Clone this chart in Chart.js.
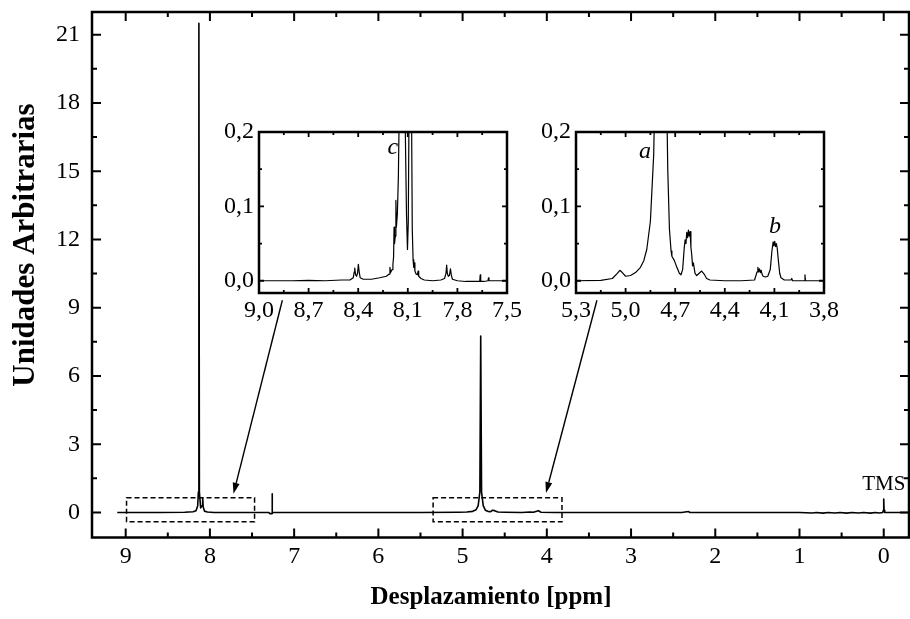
<!DOCTYPE html>
<html>
<head>
<meta charset="utf-8">
<script src="https://cdn.jsdelivr.net/npm/chart.js@4.4.0/dist/chart.umd.min.js"></script>
<style>
html, body { margin: 0; padding: 0; background: #fff; }
#wrap { position: relative; width: 910px; height: 619px; }
#wrap canvas { position: absolute; }
</style>
</head>
<body>
<div id="wrap">
  <canvas id="main" width="910" height="619" style="left:0;top:0"></canvas>
  <canvas id="inset1" width="318" height="205" style="left:209px;top:118px"></canvas>
  <canvas id="inset2" width="318" height="205" style="left:526px;top:118px"></canvas>
</div>
<script>
// espectro completo (ppm, unidades arbitrarias)
const mainPpm = [9.10, 8.60, 8.30, 8.20, 8.165, 8.145, 8.137, 8.131, 8.125, 8.110,
  8.092, 8.086, 8.080, 8.065, 8.030, 7.95, 7.50, 7.30, 7.29, 7.262, 7.261, 7.259, 7.20, 6.50, 5.50, 5.05, 4.95,
  4.88, 4.84, 4.815, 4.795, 4.785, 4.775, 4.755, 4.73, 4.70, 4.67, 4.645, 4.62, 4.58, 4.50, 4.30,
  4.20, 4.16, 4.10, 4.07, 3.90, 2.40, 2.32, 2.30, 1.00, 0.85, 0.80, 0.72, 0.66, 0.58, 0.52, 0.44, 0.38,
  0.30, 0.24, 0.16, 0.10, 0.05, 0.012, 0.004, 0.000, -0.004, -0.012, -0.30];
const mainInt = [0, 0, 0.01, 0.03, 0.08, 0.3, 0.9, 21.5, 0.9, 0.2,
  0.3, 0.64, 0.25, 0.06, 0.02, 0, 0, 0, -0.05, -0.05, 0.82, 0, 0, 0, 0, 0.01, 0.02,
  0.05, 0.12, 0.3, 0.9, 7.75, 0.9, 0.3, 0.1, 0.05, 0.03, 0.1, 0.08, 0.02, 0.01, 0,
  0.02, 0.01, 0.08, 0.01, 0, 0, 0.04, 0, 0, -0.02, 0, -0.03, 0, -0.02, 0, -0.03, 0,
  -0.02, 0, -0.03, 0, -0.02, 0, 0.1, 0.59, 0.1, 0, 0];
const mainXTicks = [9, 8, 7, 6, 5, 4, 3, 2, 1, 0];
const mainYTicks = [0, 3, 6, 9, 12, 15, 18, 21];

// ampliacion 9,0 - 7,5 ppm
const ins1Ppm = [9.00, 8.90, 8.80, 8.70, 8.60, 8.50, 8.45, 8.430, 8.424, 8.421, 8.416, 8.410, 8.404, 8.399,
  8.394, 8.388, 8.370, 8.320, 8.270, 8.230, 8.212, 8.208, 8.204, 8.195, 8.190, 8.186, 8.183, 8.180, 8.176,
  8.172, 8.169, 8.163, 8.157, 8.150, 8.140, 8.131, 8.122, 8.115, 8.108, 8.102, 8.097, 8.092, 8.085, 8.078,
  8.073, 8.068, 8.064, 8.061, 8.057, 8.050, 8.042, 8.038, 8.034, 8.020, 8.000, 7.950, 7.900, 7.878, 7.869,
  7.865, 7.861, 7.855, 7.848, 7.842, 7.837, 7.830, 7.800, 7.750, 7.700, 7.665, 7.662, 7.659, 7.640, 7.615,
  7.612, 7.609, 7.550, 7.500];
const ins1Int = [0.000, 0.000, 0.000, 0.0005, 0.000, 0.001, 0.001, 0.004, 0.012, 0.017, 0.008, 0.006, 0.010, 0.022,
  0.012, 0.004, 0.002, 0.002, 0.004, 0.006, 0.009, 0.018, 0.011, 0.015, 0.022, 0.032, 0.072, 0.050, 0.060,
  0.108, 0.072, 0.090, 0.14, 0.26, 1.5, 21.5, 1.5, 0.20, 0.09, 0.042, 0.08, 0.25, 0.6, 0.25,
  0.07, 0.028, 0.018, 0.024, 0.013, 0.009, 0.008, 0.013, 0.006, 0.003, 0.001, 0.000, 0.001, 0.003, 0.010,
  0.021, 0.010, 0.006, 0.007, 0.016, 0.008, 0.002, 0.000, -0.001, -0.001, -0.001, 0.008, -0.001, -0.001, 0.000,
  0.004, 0.000, 0.000, 0.000];
const ins1XTicks = [9.0, 8.7, 8.4, 8.1, 7.8, 7.5];

// ampliacion 5,3 - 3,8 ppm
const ins2Ppm = [5.30, 5.15, 5.08, 5.05, 5.035, 5.02, 5.00, 4.97, 4.94, 4.91, 4.89, 4.872, 4.85, 4.83, 4.815,
  4.80, 4.785, 4.77, 4.755, 4.745, 4.735, 4.725, 4.72, 4.705, 4.69, 4.675, 4.665, 4.655, 4.645, 4.64, 4.635,
  4.63, 4.625, 4.62, 4.615, 4.61, 4.605, 4.60, 4.595, 4.59, 4.58, 4.57, 4.555, 4.54, 4.525, 4.51, 4.49, 4.40,
  4.30, 4.22, 4.205, 4.20, 4.195, 4.19, 4.185, 4.18, 4.175, 4.168, 4.155, 4.14, 4.125, 4.115, 4.108, 4.103,
  4.098, 4.093, 4.088, 4.083, 4.075, 4.068, 4.06, 4.04, 4.00, 3.995, 3.99, 3.93, 3.918, 3.915, 3.912, 3.80];
const ins2Int = [0.000, 0.0005, 0.003, 0.010, 0.014, 0.011, 0.006, 0.007, 0.011, 0.018, 0.027, 0.042, 0.08, 0.17, 0.35,
  1.5, 7.75, 1.5, 0.3, 0.15, 0.07, 0.04, 0.033, 0.027, 0.018, 0.010, 0.008, 0.015, 0.045, 0.055, 0.050,
  0.065, 0.058, 0.068, 0.060, 0.066, 0.045, 0.035, 0.020, 0.024, 0.010, 0.007, 0.010, 0.013, 0.009, 0.003, 0.001, 0.000,
  0.000, 0.001, 0.012, 0.018, 0.012, 0.016, 0.011, 0.014, 0.009, 0.006, 0.005, 0.006, 0.015, 0.040, 0.052, 0.047,
  0.053, 0.046, 0.050, 0.044, 0.025, 0.010, 0.004, 0.001, 0.001, 0.003, 0.000, 0.000, 0.000, 0.008, 0.000, 0.000];
const ins2XTicks = [5.3, 5.0, 4.7, 4.4, 4.1, 3.8];
const insYTicks = [0.0, 0.1, 0.2];

Chart.defaults.font.family = "'Liberation Serif', 'Times New Roman', serif";
Chart.defaults.color = '#000';

const toPoints = (xs, ys) => xs.map((v, i) => ({ x: v, y: ys[i] }));
const comma = v => Number(v).toFixed(1).replace('.', ',');

// marcas menores a mitad de camino entre las mayores
function minorTicks(majors, lo, hi) {
    const step = majors[1] - majors[0];
    const out = [];
    for (let i = -1; i < majors.length; i++) {
        const v = majors[0] + (i + 0.5) * step;
        if (v > lo && v < hi) out.push(v);
    }
    return out;
}

const framePlugin = {
    id: 'frame',
    afterDraw(chart, args, o) {
        const { ctx, chartArea: a, scales: { x, y } } = chart;
        ctx.save();
        ctx.strokeStyle = '#000';
        ctx.lineWidth = o.tickWidth;
        const xTick = (vals, len) => vals.forEach(v => {
            const p = x.getPixelForValue(v);
            ctx.beginPath();
            ctx.moveTo(p, a.bottom); ctx.lineTo(p, a.bottom - len);
            ctx.moveTo(p, a.top); ctx.lineTo(p, a.top + len);
            ctx.stroke();
        });
        const yTick = (vals, len) => vals.forEach(v => {
            const p = y.getPixelForValue(v);
            ctx.beginPath();
            ctx.moveTo(a.left, p); ctx.lineTo(a.left + len, p);
            ctx.moveTo(a.right, p); ctx.lineTo(a.right - len, p);
            ctx.stroke();
        });
        xTick(o.xMajor, o.major);
        xTick(minorTicks(o.xMajor, x.min, x.max), o.minor);
        yTick(o.yMajor, o.major);
        yTick(minorTicks(o.yMajor, y.min, y.max), o.minor);
        ctx.lineWidth = o.frameWidth;
        ctx.strokeRect(a.left, a.top, a.width, a.height);
        ctx.restore();
    }
};

const notesPlugin = {
    id: 'notes',
    afterDraw(chart, args, o) {
        const { ctx, scales: { x, y } } = chart;
        ctx.save();
        ctx.strokeStyle = '#000';
        ctx.fillStyle = '#000';
        (o.boxes || []).forEach(b => {
            const x0 = x.getPixelForValue(b.x0), x1 = x.getPixelForValue(b.x1);
            const y0 = y.getPixelForValue(b.y0), y1 = y.getPixelForValue(b.y1);
            ctx.lineWidth = 1.5;
            ctx.setLineDash([5, 3]);
            ctx.strokeRect(Math.min(x0, x1), Math.min(y0, y1), Math.abs(x1 - x0), Math.abs(y1 - y0));
        });
        ctx.setLineDash([]);
        (o.arrows || []).forEach(ar => {
            const x0 = x.getPixelForValue(ar.x0), y0 = y.getPixelForValue(ar.y0);
            const x1 = x.getPixelForValue(ar.x1), y1 = y.getPixelForValue(ar.y1);
            const ang = Math.atan2(y1 - y0, x1 - x0);
            const L = 11, W = 3.5;
            ctx.lineWidth = 1.4;
            ctx.beginPath();
            ctx.moveTo(x0, y0);
            ctx.lineTo(x1 - L * Math.cos(ang), y1 - L * Math.sin(ang));
            ctx.stroke();
            ctx.beginPath();
            ctx.moveTo(x1, y1);
            ctx.lineTo(x1 - L * Math.cos(ang) + W * Math.sin(ang), y1 - L * Math.sin(ang) - W * Math.cos(ang));
            ctx.lineTo(x1 - L * Math.cos(ang) - W * Math.sin(ang), y1 - L * Math.sin(ang) + W * Math.cos(ang));
            ctx.closePath();
            ctx.fill();
        });
        (o.texts || []).forEach(t => {
            const px = t.px !== undefined ? t.px : x.getPixelForValue(t.x);
            const py = t.py !== undefined ? t.py : y.getPixelForValue(t.y);
            ctx.save();
            ctx.font = t.font;
            ctx.textAlign = 'center';
            ctx.textBaseline = 'middle';
            ctx.translate(px, py);
            if (t.rot) ctx.rotate(t.rot);
            ctx.fillText(t.text, 0, 0);
            ctx.restore();
        });
        ctx.restore();
    }
};

const FONT = "'Liberation Serif', 'Times New Roman', serif";

new Chart(document.getElementById('main'), {
    type: 'line',
    data: {
        datasets: [{
            data: toPoints(mainPpm, mainInt),
            borderColor: '#000',
            borderWidth: 1.6,
            borderJoinStyle: 'round',
            pointRadius: 0,
            tension: 0
        }]
    },
    options: {
        responsive: false,
        animation: false,
        devicePixelRatio: 1,
        layout: { padding: { top: 12, right: 1, left: 0, bottom: 0 } },
        plugins: {
            legend: { display: false },
            tooltip: { enabled: false },
            frame: { xMajor: mainXTicks, yMajor: mainYTicks, major: 9, minor: 5, tickWidth: 2, frameWidth: 2.5 },
            notes: {
                boxes: [
                    { x0: 8.99, x1: 7.47, y0: 0.645, y1: -0.41 },
                    { x0: 5.35, x1: 3.82, y0: 0.645, y1: -0.41 }
                ],
                arrows: [
                    { x0: 7.14, y0: 9.33, x1: 7.72, y1: 0.82 },
                    { x0: 3.405, y0: 9.33, x1: 4.01, y1: 0.86 }
                ],
                texts: [
                    { text: 'TMS', x: 0, y: 1.21, font: '21px ' + FONT },
                    { text: 'Desplazamiento [ppm]', px: 491, py: 598, font: 'bold 25px ' + FONT },
                    { text: 'Unidades Arbitrarias', px: 26, py: 245, rot: -Math.PI / 2, font: 'bold 31px ' + FONT }
                ]
            }
        },
        scales: {
            x: {
                type: 'linear',
                reverse: true,
                min: -0.3,
                max: 9.4,
                grid: { display: false, drawTicks: false },
                border: { display: false },
                ticks: { font: { size: 24 }, color: '#000', padding: 5, maxRotation: 0, callback: v => String(v) },
                afterBuildTicks: s => { s.ticks = mainXTicks.map(v => ({ value: v })); },
                afterFit: s => { s.height = 81.5; s.paddingLeft = 0; s.paddingRight = 0; }
            },
            y: {
                type: 'linear',
                min: -1.1,
                max: 22,
                grid: { display: false, drawTicks: false },
                border: { display: false },
                ticks: { font: { size: 24 }, color: '#000', padding: 12, callback: v => String(v) },
                afterBuildTicks: s => { s.ticks = mainYTicks.map(v => ({ value: v })); },
                afterFit: s => { s.width = 92; s.paddingTop = 0; s.paddingBottom = 0; }
            }
        }
    },
    plugins: [framePlugin, notesPlugin]
});

function makeInset(id, xs, ys, xTicks, label) {
    new Chart(document.getElementById(id), {
        type: 'line',
        data: {
            datasets: [{
                data: toPoints(xs, ys),
                borderColor: '#000',
                borderWidth: 1.2,
                borderJoinStyle: 'round',
                pointRadius: 0,
                tension: 0
            }]
        },
        options: {
            responsive: false,
            animation: false,
            devicePixelRatio: 1,
            layout: { padding: { top: 14, right: 20, left: 0, bottom: 0 } },
            plugins: {
                legend: { display: false },
                tooltip: { enabled: false },
                frame: { xMajor: xTicks, yMajor: insYTicks, major: 5, minor: 3, tickWidth: 1.8, frameWidth: 2.5 },
                notes: { texts: label }
            },
            scales: {
                x: {
                    type: 'linear',
                    reverse: true,
                    min: xTicks[xTicks.length - 1],
                    max: xTicks[0],
                    grid: { display: false, drawTicks: false },
                    border: { display: false },
                    ticks: { font: { size: 24 }, color: '#000', padding: 3, maxRotation: 0, callback: comma },
                    afterBuildTicks: s => { s.ticks = xTicks.map(v => ({ value: v })); },
                    afterFit: s => { s.height = 30; s.paddingLeft = 0; s.paddingRight = 0; }
                },
                y: {
                    type: 'linear',
                    min: -0.0165,
                    max: 0.2,
                    grid: { display: false, drawTicks: false },
                    border: { display: false },
                    ticks: { font: { size: 24 }, color: '#000', padding: 5, callback: comma },
                    afterBuildTicks: s => { s.ticks = insYTicks.map(v => ({ value: v })); },
                    afterFit: s => { s.width = 50; s.paddingTop = 0; s.paddingBottom = 0; }
                }
            }
        },
        plugins: [framePlugin, notesPlugin]
    });
}

makeInset('inset1', ins1Ppm, ins1Int, ins1XTicks, [
    { text: 'c', x: 8.19, y: 0.179, font: 'italic 24px ' + FONT }
]);
makeInset('inset2', ins2Ppm, ins2Int, ins2XTicks, [
    { text: 'a', x: 4.883, y: 0.173, font: 'italic 24px ' + FONT },
    { text: 'b', x: 4.096, y: 0.072, font: 'italic 24px ' + FONT }
]);
</script>
</body>
</html>
